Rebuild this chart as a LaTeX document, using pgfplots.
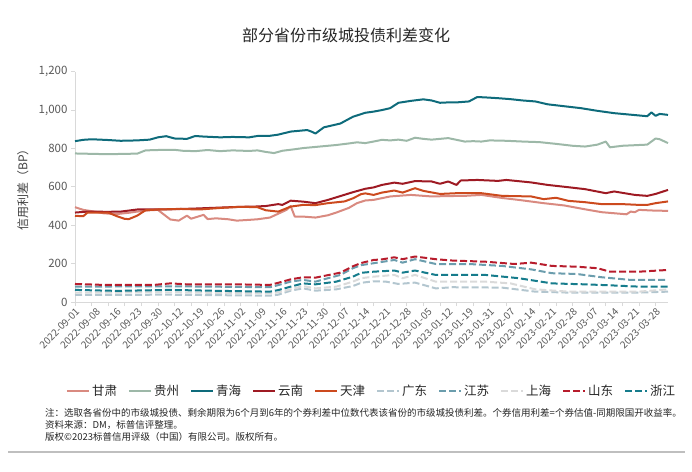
\documentclass[border=0pt]{standalone}
\usepackage{fontspec}
\setmainfont{Noto Sans CJK SC}
\usepackage{pgfplots}
\pgfplotsset{compat=1.18}
\definecolor{cGS}{HTML}{D98A80}
\definecolor{cGZ}{HTML}{9DB8A8}
\definecolor{cQH}{HTML}{0E6B7B}
\definecolor{cYN}{HTML}{9E1A23}
\definecolor{cTJ}{HTML}{CC4A1E}
\definecolor{cGD}{HTML}{B3C6CF}
\definecolor{cJS}{HTML}{6B9DAD}
\definecolor{cSH}{HTML}{DADADA}
\definecolor{cSD}{HTML}{B71C2C}
\definecolor{cZJ}{HTML}{167C8C}
\definecolor{labelgray}{HTML}{595959}
\definecolor{axgray}{HTML}{D9D9D9}
\begin{document}
\begin{tikzpicture}[x=1pt,y=1pt]
\useasboundingbox (0,0) rectangle (692,471);
\node[font=\fontsize{16}{18}\selectfont, text=black!85] at (346,436) {部分省份市级城投债利差变化};
\begin{axis}[
  at={(75pt,169pt)}, anchor=south west,
  scale only axis, width=593pt, height=230.3pt,
  xmin=0, xmax=143, ymin=0, ymax=1200,
  axis x line*=bottom, axis y line*=left,
  axis line style={color=axgray, line width=0.8pt},
  tick align=outside,
  major tick length=4pt,
  minor tick length=4pt,
  every tick/.style={color=axgray, line width=0.8pt},
  xtick={0,5,...,140},
  xticklabels={2022-09-01,2022-09-08,2022-09-16,2022-09-23,2022-09-30,2022-10-12,2022-10-19,2022-10-26,2022-11-02,2022-11-09,2022-11-16,2022-11-23,2022-11-30,2022-12-07,2022-12-14,2022-12-21,2022-12-28,2023-01-05,2023-01-12,2023-01-19,2023-01-31,2023-02-07,2023-02-14,2023-02-21,2023-02-28,2023-03-07,2023-03-14,2023-03-21,2023-03-28},
  major x tick style={draw=none},
  minor xtick={0,4,...,140},
  minor x tick style={draw=axgray, line width=0.8pt},
  x tick label style={rotate=45, anchor=north east, font=\fontsize{10}{12}\selectfont, text=labelgray, inner sep=1pt},
  ytick={0,200,...,1200},
  /pgf/number format/assume math mode=true,
  y tick label style={font=\fontsize{11.5}{13}\selectfont, text=labelgray, /pgf/number format/.cd, 1000 sep={,}},
  ylabel={信用利差（BP）},
  ylabel style={at={(axis description cs:-0.088,0.5)}, anchor=center, font=\fontsize{12}{14}\selectfont, text=black!75},
  legend columns=10,
  legend style={at={(axis description cs:0.5,-0.386)}, anchor=center, draw=none, fill=none,
    font=\fontsize{12.5}{14}\selectfont, text=black!85,
    /tikz/every even column/.append style={column sep=9pt}},
  legend image code/.code={\draw[#1] (0pt,0pt) -- (22pt,0pt);},
  every axis plot/.append style={line width=2pt, line join=round},
  clip=false,
]
% 甘肃
\addplot[cGS] coordinates {(0,494)(2,480)(5,470)(7,462)(10,458)(13,465)(15,471)(18,478)(20,480)(21,463)(23,430)(25,424)(27,450)(28,434)(31,454)(32,432)(34,436)(37,431)(39,424)(42,428)(44,431)(47,440)(49,460)(51,480)(52,500)(53,445)(55,445)(58,440)(61,452)(63,466)(66,490)(68,515)(70,529)(72,532)(76,550)(81,558)(86,550)(90,552)(94,553)(98,558)(103,542)(107,532)(113,515)(118,503)(123,483)(127,468)(133,457)(134,471)(135,468)(136,480)(140,476)(143,475)};
\addlegendentry{甘肃}
% 贵州
\addplot[cGZ] coordinates {(0,774)(4,772)(8,770)(12,772)(15,773)(17,790)(20,792)(24,793)(26,788)(29,786)(32,792)(35,786)(38,790)(42,787)(44,790)(46,782)(48,776)(50,788)(53,796)(55,802)(59,810)(63,818)(66,826)(68,832)(70,828)(72,836)(74,845)(76,842)(78,846)(80,840)(82,856)(84,850)(86,846)(88,850)(90,854)(92,845)(94,836)(96,838)(98,836)(100,842)(104,840)(108,836)(112,833)(116,824)(120,814)(123,810)(126,820)(128,836)(129,806)(132,814)(136,818)(138,820)(140,852)(141,848)(143,828)};
\addlegendentry{贵州}
% 青海
\addplot[cQH] coordinates {(0,838)(2,845)(4,848)(8,844)(11,840)(15,842)(18,846)(20,858)(22,864)(24,852)(27,850)(29,865)(31,862)(35,858)(38,860)(42,858)(44,865)(47,866)(49,872)(52,888)(56,896)(57,888)(58,878)(60,910)(62,920)(64,930)(67,965)(70,986)(72,992)(74,1000)(76,1010)(78,1038)(81,1048)(84,1056)(86,1050)(88,1038)(90,1040)(92,1040)(95,1045)(97,1068)(99,1066)(102,1062)(105,1057)(108,1050)(111,1045)(114,1030)(118,1020)(122,1010)(126,996)(130,984)(134,976)(138,968)(139,988)(140,970)(141,980)(143,975)};
\addlegendentry{青海}
% 云南
\addplot[cYN] coordinates {(0,466)(3,471)(8,470)(11,471)(15,482)(20,483)(23,483)(29,487)(35,492)(40,496)(43,497)(46,500)(49,510)(50,506)(52,528)(55,523)(58,515)(61,532)(64,552)(67,572)(70,590)(72,597)(74,610)(77,622)(79,616)(82,630)(86,628)(88,616)(90,628)(92,610)(93,633)(97,636)(102,631)(104,636)(110,623)(114,610)(119,598)(123,588)(128,567)(130,576)(135,558)(138,553)(140,563)(143,584)};
\addlegendentry{云南}
% 天津
\addplot[cTJ] coordinates {(0,449)(2,447)(3,466)(8,466)(10,448)(12,433)(13,432)(15,450)(17,478)(20,482)(25,485)(30,482)(35,490)(40,496)(44,494)(46,478)(49,471)(52,497)(55,506)(58,505)(61,515)(65,524)(67,540)(69,562)(70,566)(72,558)(74,570)(77,581)(79,570)(82,593)(84,579)(88,563)(92,567)(98,567)(103,553)(110,550)(113,536)(116,543)(119,527)(123,520)(127,510)(132,510)(136,506)(138,506)(140,515)(143,524)};
\addlegendentry{天津}
% 广东
\addplot[cGD, dash pattern=on 7pt off 3pt] coordinates {(0,37)(23,38)(47,33)(49,38)(52,59)(55,71)(58,59)(63,66)(67,83)(69,100)(72,108)(75,106)(78,94)(82,101)(87,71)(91,77)(103,75)(111,54)(119,49)(136,49)(143,54)};
\addlegendentry{广东}
% 江苏
\addplot[cJS, dash pattern=on 7pt off 3pt] coordinates {(0,80)(23,82)(47,77)(49,88)(52,106)(55,115)(58,106)(61,124)(64,141)(67,176)(69,192)(72,202)(77,219)(79,205)(82,223)(87,198)(95,198)(103,188)(110,170)(115,150)(121,146)(127,129)(134,115)(143,115)};
\addlegendentry{江苏}
% 上海
\addplot[cSH, dash pattern=on 7pt off 3pt] coordinates {(0,49)(23,50)(47,45)(49,50)(52,66)(55,83)(58,71)(63,80)(67,106)(69,124)(72,132)(77,141)(79,124)(82,141)(87,106)(99,106)(105,97)(111,66)(119,54)(136,54)(143,66)};
\addlegendentry{上海}
% 山东
\addplot[cSD, dash pattern=on 7pt off 3pt] coordinates {(0,94)(7,89)(19,89)(23,97)(27,92)(39,92)(47,89)(49,100)(52,118)(55,129)(58,127)(61,140)(64,153)(67,186)(69,203)(72,219)(74,222)(77,233)(79,223)(82,237)(87,223)(91,216)(99,210)(106,198)(110,205)(115,188)(121,184)(126,176)(129,158)(136,158)(143,167)};
\addlegendentry{山东}
% 浙江
\addplot[cZJ, dash pattern=on 7pt off 3pt] coordinates {(0,63)(10,58)(23,63)(35,58)(47,54)(49,62)(52,80)(55,97)(58,92)(63,106)(67,132)(69,152)(72,158)(77,164)(79,153)(82,164)(87,141)(99,141)(107,124)(115,97)(123,92)(129,87)(136,80)(143,80)};
\addlegendentry{浙江}
\end{axis}
\begin{scope}[every node/.style={anchor=west, font=\fontsize{9.5}{11}\selectfont, text=black!85, inner sep=0pt}]
\node at (45,58) {注：选取各省份中的市级城投债、剩余期限为6个月到6年的个券利差中位数代表该省份的市级城投债利差。个券信用利差=个券估值-同期限国开收益率。};
\node at (45,46) {资料来源：DM，标普信评整理。};
\node at (45,34) {版权©2023标普信用评级（中国）有限公司。版权所有。};
\end{scope}
\draw[black!25, line width=1.5pt] (8,19) -- (685,19);
\end{tikzpicture}
\end{document}
